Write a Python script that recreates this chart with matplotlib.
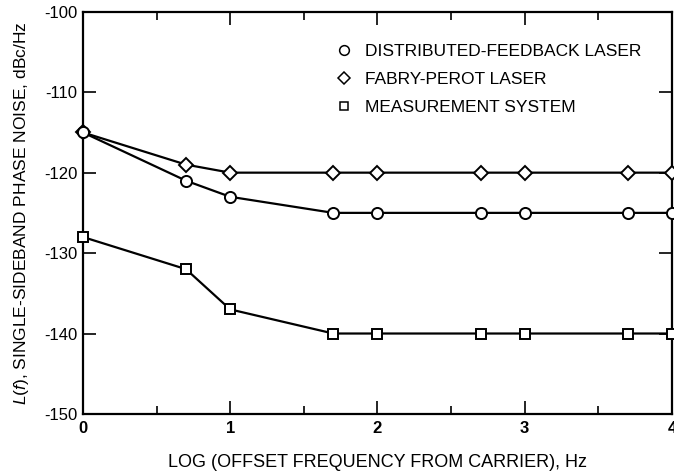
import matplotlib
matplotlib.use("Agg")
import matplotlib.pyplot as plt
from matplotlib.lines import Line2D

plt.rcParams['font.family'] = ['Liberation Sans', 'DejaVu Sans']
plt.rcParams['mathtext.fontset'] = 'custom'
plt.rcParams['mathtext.it'] = 'Liberation Sans:italic'
plt.rcParams['mathtext.rm'] = 'Liberation Sans'

log_offset = [0, 0.7, 1, 1.7, 2, 2.7, 3, 3.7, 4]
dfb_laser = [-115, -121, -123, -125, -125, -125, -125, -125, -125]
fp_laser = [-115, -119, -120, -120, -120, -120, -120, -120, -120]
meas_system = [-128, -132, -137, -140, -140, -140, -140, -140, -140]
series_names = ["DISTRIBUTED-FEEDBACK LASER", "FABRY-PEROT LASER", "MEASUREMENT SYSTEM"]
x_ticks = [0, 1, 2, 3, 4]
y_ticks = [-150, -140, -130, -120, -110, -100]

fig = plt.figure(figsize=(6.74, 4.72), dpi=100)
ax = fig.add_axes([0.123, 0.123, 0.874, 0.852])

kw = dict(color='black', lw=1.6, markersize=8, markerfacecolor='white',
          markeredgecolor='black', markeredgewidth=1.4, clip_on=False, zorder=3)
ax.plot(log_offset, fp_laser, marker='D', **{**kw, 'markersize': 7.5})
ax.plot(log_offset, dfb_laser, marker='o', **kw)
ax.plot(log_offset, meas_system, marker='s', **{**kw, 'markersize': 7.5})

ax.set_xlim(0, 4)
ax.set_ylim(-150, -100)
ax.set_xticks(x_ticks)
ax.set_xticklabels([str(t) for t in x_ticks], fontsize=12, fontweight='bold')
ax.set_yticks(y_ticks)
ax.set_yticklabels([str(t) for t in y_ticks], fontsize=12)
ax.set_xticks([0.5, 1.5, 2.5, 3.5], minor=True)
ax.tick_params(axis='both', which='major', direction='in', length=9.5, width=1.2,
               top=True, right=True, pad=4)
ax.tick_params(axis='x', which='major', pad=5)
ax.tick_params(axis='both', which='minor', direction='in', length=5.5, width=1.2,
               top=True)
for s in ax.spines.values():
    s.set_linewidth(1.6)

ax.set_xlabel("LOG (OFFSET FREQUENCY FROM CARRIER), Hz", fontsize=13, labelpad=13)
ax.set_ylabel(r"$L(f)$, SINGLE-SIDEBAND PHASE NOISE, dBc/Hz", fontsize=12.5, labelpad=9)

handles = [
    Line2D([], [], ls='none', marker='o', markersize=7, markerfacecolor='white', markeredgecolor='black', markeredgewidth=1.1),
    Line2D([], [], ls='none', marker='D', markersize=6, markerfacecolor='white', markeredgecolor='black', markeredgewidth=1.1),
    Line2D([], [], ls='none', marker='s', markersize=6, markerfacecolor='white', markeredgecolor='black', markeredgewidth=1.1),
]
ax.legend(handles, series_names, loc='upper left', bbox_to_anchor=(0.429, 0.92),
          frameon=False, fontsize=12.5, handlelength=1.0, handletextpad=0.72,
          labelspacing=0.74, borderaxespad=0, borderpad=0)

fig.savefig("out.png", dpi=100)
